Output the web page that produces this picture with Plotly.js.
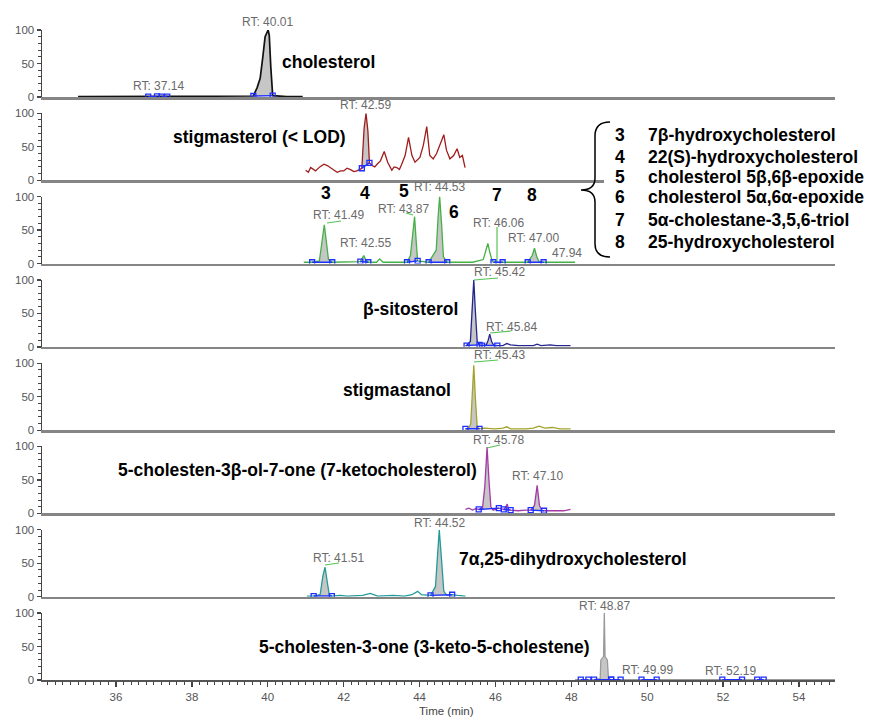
<!DOCTYPE html>
<html><head><meta charset="utf-8">
<script src="https://cdn.plot.ly/plotly-3.0.1.min.js"></script>
<style>html,body{margin:0;padding:0;background:#fff;} #chart{width:871px;height:721px;}</style>
</head><body><div id="chart"></div>
<script>
// ---------------- DATA ----------------
const panelNames = ['cholesterol','stigmasterol (< LOD)','','β-sitosterol','stigmastanol',
  '5-cholesten-3β-ol-7-one (7-ketocholesterol)','7α,25-dihydroxycholesterol','5-cholesten-3-one (3-keto-5-cholestene)'];
const yTicks = [0, 50, 100];

// panel 1: cholesterol
const p1T = [35.0, 36.0, 36.85, 37.08, 37.2, 37.35, 38.5, 39.62, 39.72, 39.80, 39.87, 39.93, 40.01, 40.04, 40.08, 40.13, 40.5, 40.92];
const p1I = [0.5, 0.5, 0.6, 0.8, 0.7, 0.6, 0.5, 1.5, 14, 28, 60, 90, 100, 92, 45, 2, 0.5, 0.5];
const p1Win = [[36.85, 37.08], [37.2, 37.35], [39.62, 40.13]];

// panel 2: stigmasterol
const p2T = [41.0, 41.07, 41.13, 41.2, 41.26, 41.37, 41.48, 41.57, 41.66, 41.75, 41.83, 41.92, 42.0, 42.09, 42.18, 42.27, 42.35, 42.48, 42.54, 42.59, 42.64, 42.68, 42.75, 42.82, 42.88, 42.97, 43.07, 43.16, 43.27, 43.33, 43.4, 43.47, 43.53, 43.62, 43.71, 43.8, 43.88, 43.95, 44.01, 44.1, 44.19, 44.27, 44.36, 44.45, 44.54, 44.64, 44.71, 44.8, 44.9, 44.99, 45.06, 45.13, 45.2];
const p2I = [15, 12, 19, 16, 14, 20, 24, 22, 19, 15, 12, 14, 14, 18, 16, 13, 14, 18, 78, 100, 73, 26, 22, 20, 24, 29, 43, 27, 15, 20, 19, 16, 24, 37, 64, 37, 27, 31, 34, 52, 80, 37, 32, 40, 52, 68, 45, 32, 37, 47, 34, 37, 19];
const p2Win = [[42.48, 42.68]];

// panel 3: oxysterols 3-8
const p3T = [40.95, 41.17, 41.36, 41.43, 41.49, 41.54, 41.6, 41.7, 42.2, 42.44, 42.53, 42.59, 42.65, 42.87, 42.95, 43.04, 43.4, 43.67, 43.76, 43.82, 43.87, 43.91, 43.95, 44.24, 44.44, 44.49, 44.53, 44.58, 44.63, 44.73, 45.4, 45.68, 45.74, 45.8, 45.86, 45.92, 45.95, 46.19, 46.85, 46.97, 47.03, 47.09, 47.15, 47.27, 47.8, 47.94, 48.1];
const p3I = [2, 2, 4, 30, 58, 35, 6, 2, 2, 3, 12, 5, 2, 2, 7, 2, 2, 2, 12, 45, 70, 35, 4, 2, 20, 70, 100, 60, 10, 2, 2, 6, 20, 30, 15, 3, 2, 2, 2, 12, 23, 10, 3, 2, 2, 3, 2];
const p3Win = [[41.17, 41.7], [42.44, 42.65], [43.67, 43.95], [44.24, 44.73], [45.95, 46.19], [46.85, 47.27]];

// panel 4: beta-sitosterol
const p4T = [45.21, 45.24, 45.34, 45.38, 45.43, 45.47, 45.52, 45.58, 45.65, 45.76, 45.81, 45.85, 45.9, 45.96, 46.05, 46.2, 46.3, 46.4, 46.6, 46.8, 47.0, 47.1, 47.2, 47.45, 47.6, 47.98];
const p4I = [2, 2, 8, 60, 100, 55, 8, 3, 2, 3, 10, 19, 8, 2, 2, 2, 5, 3, 2, 2, 2, 4, 2, 3, 2, 2];
const p4Win = [[45.24, 45.58], [45.65, 46.05]];

// panel 5: stigmastanol
const p5T = [45.21, 45.3, 45.35, 45.39, 45.43, 45.47, 45.52, 45.58, 45.7, 46.0, 46.2, 46.3, 46.4, 46.8, 47.0, 47.15, 47.3, 47.5, 47.7, 47.98];
const p5I = [2, 2, 10, 60, 97, 50, 5, 2, 3, 2, 3, 5, 2, 2, 3, 6, 3, 4, 2, 2];
const p5Win = [[45.21, 45.58]];

// panel 6: 7-ketocholesterol
const p6T = [45.21, 45.3, 45.4, 45.48, 45.56, 45.66, 45.72, 45.78, 45.83, 45.88, 45.94, 46.02, 46.09, 46.22, 46.28, 46.31, 46.35, 46.4, 46.6, 46.8, 46.93, 47.03, 47.1, 47.16, 47.22, 47.28, 47.45, 47.6, 47.8, 47.98];
const p6I = [6, 8, 5, 7, 6, 8, 40, 99, 50, 10, 5, 6, 8, 6, 10, 14, 6, 5, 4, 5, 5, 12, 42, 12, 5, 4, 4, 5, 4, 6];
const p6Win = [[45.56, 46.09], [46.22, 46.4], [46.93, 47.28]];

// panel 7: 7alpha,25-dihydroxycholesterol
const p7T = [41.03, 41.21, 41.38, 41.45, 41.51, 41.56, 41.62, 41.69, 41.9, 42.1, 42.5, 42.7, 42.9, 43.3, 43.6, 43.8, 43.95, 44.05, 44.2, 44.29, 44.42, 44.48, 44.52, 44.58, 44.64, 44.72, 44.86, 45.0, 45.21];
const p7I = [1, 1, 3, 30, 44, 25, 3, 1, 2, 1, 2, 5, 1, 2, 1, 3, 8, 3, 2, 2, 15, 70, 100, 55, 8, 2, 3, 2, 1];
const p7Win = [[41.21, 41.69], [44.29, 44.86]];

// panel 8: 5-cholesten-3-one
const p8T = [48.1, 48.25, 48.45, 48.6, 48.76, 48.78, 48.85, 48.87, 48.89, 48.95, 48.98, 49.05, 49.3, 49.85, 50.25, 51.0, 51.98, 52.5, 52.9, 53.07, 54.0, 55.0];
const p8I = [0.5, 0.5, 0.5, 0.5, 2, 30, 35, 100, 35, 30, 2, 0.5, 0.5, 0.5, 0.5, 0.5, 0.5, 0.5, 0.5, 0.5, 0.5, 0.5];
const p8Win = [[48.25, 48.45], [48.6, 49.05], [49.05, 49.3], [49.85, 50.25], [51.98, 52.5], [52.9, 53.07]];

const rtLabels = ['RT: 40.01','RT: 37.14','RT: 42.59','RT: 41.49','RT: 42.55','RT: 43.87','RT: 44.53','RT: 46.06','RT: 47.00','47.94',
  'RT: 45.42','RT: 45.84','RT: 45.43','RT: 45.78','RT: 47.10','RT: 41.51','RT: 44.52','RT: 48.87','RT: 49.99','RT: 52.19'];
const peakNumbers = ['3','4','5','6','7','8'];
const legendNames = ['7β-hydroxycholesterol','22(S)-hydroxycholesterol','cholesterol 5β,6β-epoxide',
  'cholesterol 5α,6α-epoxide','5α-cholestane-3,5,6-triol','25-hydroxycholesterol'];

// ---------------- LAYOUT HELPERS ----------------
const W = 871, H = 721;
const L = 42, R = 835, T = 30, B = 680;
const xp = px => (px - L) / (R - L);
const yp = py => (B - py) / (B - T);
const XR = [34.05, 54.95];
const PERIOD = 83.29, PH = 67, FIRST0 = 97;
const FONT = 'Liberation Sans, Arial, Helvetica, sans-serif';

const panels = [
  {t: p1T, v: p1I, win: p1Win, color: '#111111', lw: 1.7},
  {t: p2T, v: p2I, win: p2Win, color: '#a01c1c', lw: 1.3},
  {t: p3T, v: p3I, win: p3Win, color: '#45b045', lw: 1.3},
  {t: p4T, v: p4I, win: p4Win, color: '#25258f', lw: 1.3},
  {t: p5T, v: p5I, win: p5Win, color: '#a3a32c', lw: 1.3},
  {t: p6T, v: p6I, win: p6Win, color: '#a53aa5', lw: 1.3},
  {t: p7T, v: p7I, win: p7Win, color: '#239a9a', lw: 1.3},
  {t: p8T, v: p8I, win: p8Win, color: '#9a9a9a', lw: 1.3}
];

const traces = [];
const layout = {
  width: W, height: H,
  margin: {l: L, r: W - R, t: T, b: H - B, pad: 0},
  showlegend: false,
  paper_bgcolor: '#ffffff', plot_bgcolor: 'rgba(0,0,0,0)',
  font: {family: FONT},
  annotations: [], shapes: []
};

panels.forEach((p, i) => {
  const s = i === 0 ? '' : String(i + 1);
  const xa = 'x' + s, ya = 'y' + s;
  const last = i === panels.length - 1;
  const bot = FIRST0 + i * PERIOD, top = bot - PH;
  layout['yaxis' + s] = {
    domain: [Math.max(0, yp(bot)), Math.min(1, yp(top))],
    range: [0, 100], anchor: xa,
    showline: true, linecolor: '#444', linewidth: 1.5,
    ticks: 'outside', ticklen: 4, tickwidth: 1.3, tickcolor: '#444',
    tickmode: 'array', tickvals: yTicks, ticktext: yTicks.map(String),
    tickfont: {family: FONT, size: 11.5, color: '#555'},
    minor: {tickmode: 'linear', tick0: 0, dtick: 10, ticks: 'outside', ticklen: 2.5, tickwidth: 1, tickcolor: '#444', showgrid: false},
    showgrid: false, zeroline: false, fixedrange: true
  };
  const xax = {
    domain: [0, 1], range: XR, anchor: ya,
    showline: true, linecolor: last ? '#555' : '#858585', linewidth: last ? 2 : 2.5,
    showgrid: false, zeroline: false, fixedrange: true,
    ticks: last ? 'outside' : '', showticklabels: last
  };
  if (last) {
    Object.assign(xax, {
      tickmode: 'linear', tick0: 0, dtick: 2, ticklen: 5, tickwidth: 1.3, tickcolor: '#444',
      tickfont: {family: FONT, size: 11.5, color: '#555'},
      minor: {tickmode: 'linear', tick0: 0, dtick: 0.2, ticks: 'outside', ticklen: 3, tickwidth: 1, tickcolor: '#444', showgrid: false}
    });
  }
  layout['xaxis' + s] = xax;

  // integration windows: gray fill under curve between window ends
  const bx = [], by = [];
  p.win.forEach(([a, b]) => {
    const fx = [], fy = [];
    p.t.forEach((t, k) => { if (t >= a - 1e-9 && t <= b + 1e-9) { fx.push(t); fy.push(p.v[k]); } });
    if (fx.length < 2) return;
    traces.push({x: fx, y: fy, xaxis: xa, yaxis: ya, mode: 'lines', fill: 'toself',
      fillcolor: '#c6c6c6', line: {width: 0, color: 'rgba(0,0,0,0)'}, hoverinfo: 'skip'});
    bx.push(fx[0], fx[fx.length - 1], null);
    by.push(fy[0], fy[fy.length - 1], null);
  });
  // chromatogram line
  traces.push({x: p.t, y: p.v, xaxis: xa, yaxis: ya, mode: 'lines',
    line: {color: p.color, width: p.lw}, hoverinfo: 'skip'});
  // integration baseline + markers
  traces.push({x: bx, y: by, xaxis: xa, yaxis: ya, mode: 'lines+markers',
    line: {color: '#1f2fff', width: 1.4},
    marker: {symbol: 'square-open', size: 5, color: '#1f2fff', line: {width: 1.3, color: '#1f2fff'}},
    hoverinfo: 'skip'});
});

// ---------------- TEXT ----------------
const bigFont = {family: FONT, size: 17.5, color: '#000'};
function addText(text, px, py, anchor, font) {
  layout.annotations.push({text: text, x: xp(px), y: yp(py), xref: 'paper', yref: 'paper',
    xanchor: anchor, yanchor: 'middle', showarrow: false, font: font || bigFont});
}
// compound labels
const nameAnchors = [[280, 62, 'left'], [348, 137, 'right'], null, [460, 309, 'right'], [453, 390, 'right'],
  [479, 470, 'right'], [457, 559, 'left'], [592, 647, 'right']];
panelNames.forEach((n, i) => { if (n && nameAnchors[i]) addText('<b>' + n + '</b>', nameAnchors[i][0], nameAnchors[i][1], nameAnchors[i][2]); });

// peak numbers in panel 3
const numPos = [[326, 193], [365, 193], [404, 191], [454, 212], [497, 195], [532, 195]];
peakNumbers.forEach((n, k) => addText('<b>' + n + '</b>', numPos[k][0], numPos[k][1], 'center'));

// RT labels
const rtFont = {family: FONT, size: 12, color: '#6a6a6a'};
const rtPos = [[267, 22], [158, 86], [365, 105], [338, 215], [365, 243], [403, 209], [439, 187], [498, 223], [533, 238], [567, 253],
  [499, 272], [511, 327], [499, 355], [498, 440], [537, 476], [338, 558], [439, 523], [604, 606], [647, 670], [730, 671]];
rtLabels.forEach((r, k) => addText(r, rtPos[k][0], rtPos[k][1], 'center', rtFont));

// axis title
addText('Time (min)', 446, 711, 'center', {family: FONT, size: 11.5, color: '#444'});

// legend box (white background covering panel-2 axis line), brace, legend text
layout.shapes.push({type: 'rect', xref: 'paper', yref: 'paper', x0: xp(604), x1: xp(871), y0: yp(256), y1: yp(116),
  fillcolor: '#ffffff', line: {width: 0}, layer: 'above'});
function P(px, py) { return xp(px).toFixed(5) + ',' + yp(py).toFixed(5); }
const brace = 'M' + P(610, 122) + ' C' + P(600, 122) + ' ' + P(595, 126) + ' ' + P(595, 136) +
  ' L' + P(595, 178) + ' C' + P(595, 186) + ' ' + P(590, 190) + ' ' + P(581, 190) +
  ' C' + P(590, 190) + ' ' + P(595, 194) + ' ' + P(595, 202) +
  ' L' + P(595, 244) + ' C' + P(595, 253) + ' ' + P(600, 257) + ' ' + P(610, 257);
layout.shapes.push({type: 'path', xref: 'paper', yref: 'paper', path: brace, line: {color: '#000', width: 1.5}, layer: 'above'});

const legY = [135, 156.5, 177, 197.5, 219.5, 241.5];
peakNumbers.forEach((n, k) => {
  addText('<b>' + n + '</b>', 620, legY[k], 'center');
  addText('<b>' + legendNames[k] + '</b>', 646, legY[k], 'left');
});

// green label leader lines
const leaders = [[341, 221, 327, 223], [406, 213, 413, 215], [497, 227, 497, 261], [474, 280, 498, 278],
  [490, 333, 511, 331], [474, 362, 498, 360], [487, 448, 500, 445], [325, 565, 339, 563]];
leaders.forEach(([a, b, c, d]) => layout.shapes.push({type: 'line', xref: 'paper', yref: 'paper',
  x0: xp(a), y0: yp(b), x1: xp(c), y1: yp(d), line: {color: '#55c455', width: 1.2}, layer: 'above'}));

Plotly.newPlot('chart', traces, layout, {staticPlot: true, displayModeBar: false});
</script></body></html>
